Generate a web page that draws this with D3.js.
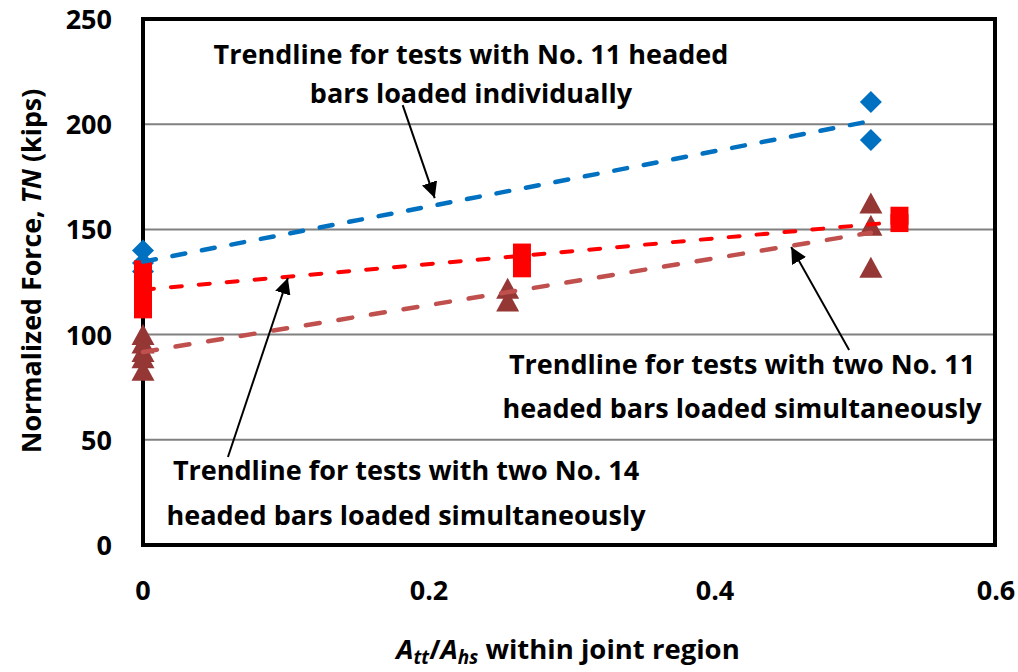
<!DOCTYPE html>
<html>
<head>
<meta charset="utf-8">
<script src="https://cdn.jsdelivr.net/npm/d3@7"></script>
<style>
  html, body { margin: 0; padding: 0; background: #fff; }
  svg { display: block; }
  text { font-family: "Open Sans", Lato, sans-serif; font-weight: bold; fill: #000; }
</style>
</head>
<body>
<svg id="chart" width="1018" height="672"></svg>
<script>
// ---- data ----
const xTicks = [0, 0.2, 0.4, 0.6];
const yTicks = [0, 50, 100, 150, 200, 250];

// Tests with No. 11 headed bars loaded individually (blue diamonds)
const indivX = [0, 0, 0, 0.509, 0.509];
const indivY = [140, 134, 130, 210.5, 192.5];

// Tests with two No. 11 headed bars loaded simultaneously (red squares)
const two11X = [0, 0, 0, 0, 0, 0.265, 0.265, 0.529, 0.529];
const two11Y = [131, 127, 122, 117, 112, 139, 131.5, 156.5, 153];

// Tests with two No. 14 headed bars loaded simultaneously (brown triangles)
const two14X = [0, 0, 0, 0, 0, 0.255, 0.255, 0.509, 0.509, 0.509];
const two14Y = [100, 96, 92, 89, 83, 122, 116, 162.5, 152, 132];

const annotations = [
  { lines: ["Trendline for tests with No. 11 headed", "bars loaded individually"], cx: 471, y0: 64, gap: 39 },
  { lines: ["Trendline for tests with two No. 11", "headed bars loaded simultaneously"], cx: 742, y0: 374, gap: 44 },
  { lines: ["Trendline for tests with two No. 14", "headed bars loaded simultaneously"], cx: 406, y0: 480, gap: 45 }
];
// arrows in data units: [tailX, tailY, tipX, tipY]
const arrows = [
  [0.1816, 209.1, 0.2040, 164.9],
  [0.0594, 41.8, 0.1013, 126.9],
  [0.4938, 92.7, 0.4533, 141.6]
];

// ---- layout ----
const svg = d3.select("#chart");
const plotLeft = 143, plotTop = 19, plotBottom = 545, frameRight = 995;
const x = d3.scaleLinear().domain([0, 0.6]).range([plotLeft, 1001]);
const y = d3.scaleLinear().domain([0, 250]).range([plotBottom, plotTop]);

const blue = "#0070C0", red = "#FF0000", brown = "#953735", brownLine = "#C0504D";

// gridlines
svg.append("g").selectAll("line").data(yTicks.filter(d => d > 0 && d < 250)).join("line")
  .attr("x1", plotLeft).attr("x2", frameRight)
  .attr("y1", d => y(d)).attr("y2", d => y(d))
  .attr("stroke", "#808080").attr("stroke-width", 2);

// frame
svg.append("rect").attr("x", plotLeft).attr("y", plotTop)
  .attr("width", frameRight - plotLeft).attr("height", plotBottom - plotTop)
  .attr("fill", "none").attr("stroke", "#000").attr("stroke-width", 4);

// y tick labels
svg.append("g").selectAll("text").data(yTicks).join("text")
  .attr("x", 112).attr("y", d => y(d) + 10)
  .attr("text-anchor", "end").attr("font-size", 27)
  .text(d => d);

// x tick labels
svg.append("g").selectAll("text").data(xTicks).join("text")
  .attr("x", d => Math.min(x(d), 996)).attr("y", 600)
  .attr("text-anchor", "middle").attr("font-size", 27)
  .text(d => d);

// markers
const diamond = (cx, cy, r) => `M${cx},${cy - r}L${cx + r},${cy}L${cx},${cy + r}L${cx - r},${cy}Z`;
const square = (cx, cy, s) => `M${cx - s / 2},${cy - s / 2}h${s}v${s}h${-s}Z`;
const tri = (cx, cy, w, h) => `M${cx},${cy - h / 2}L${cx + w / 2},${cy + h / 2}L${cx - w / 2},${cy + h / 2}Z`;

svg.append("g").selectAll("path").data(d3.range(indivX.length)).join("path")
  .attr("d", i => diamond(x(indivX[i]), y(indivY[i]), 11)).attr("fill", blue);
svg.append("g").selectAll("path").data(d3.range(two11X.length)).join("path")
  .attr("d", i => square(x(two11X[i]), y(two11Y[i]), 18)).attr("fill", red);
svg.append("g").selectAll("path").data(d3.range(two14X.length)).join("path")
  .attr("d", i => tri(x(two14X[i]), y(two14Y[i]), 23, 21)).attr("fill", brown);

// linear trendlines (least squares)
function fit(xs, ys) {
  const mx = d3.mean(xs), my = d3.mean(ys);
  let sxy = 0, sxx = 0;
  xs.forEach((v, i) => { sxy += (v - mx) * (ys[i] - my); sxx += (v - mx) * (v - mx); });
  const b = sxy / sxx, a = my - b * mx;
  const x0 = d3.min(xs), x1 = d3.max(xs);
  return [[x0, a + b * x0], [x1, a + b * x1]];
}
const line = d3.line().x(d => x(d[0])).y(d => y(d[1]));
svg.append("path").attr("d", line(fit(indivX, indivY)))
  .attr("stroke", blue).attr("stroke-width", 4.5).attr("fill", "none")
  .attr("stroke-dasharray", "13,17").attr("stroke-linecap", "round");
svg.append("path").attr("d", line(fit(two11X, two11Y)))
  .attr("stroke", red).attr("stroke-width", 4).attr("fill", "none")
  .attr("stroke-dasharray", "11,17").attr("stroke-linecap", "round");
svg.append("path").attr("d", line(fit(two14X, two14Y)))
  .attr("stroke", brownLine).attr("stroke-width", 4.5).attr("fill", "none")
  .attr("stroke-dasharray", "14,19").attr("stroke-linecap", "round");

// arrows
svg.append("defs").append("marker").attr("id", "ah")
  .attr("viewBox", "0 0 10 10").attr("refX", 10).attr("refY", 5)
  .attr("markerWidth", 8).attr("markerHeight", 8).attr("markerUnits", "strokeWidth")
  .attr("orient", "auto")
  .append("path").attr("d", "M0,0L10,5L0,10Z").attr("fill", "#000");
svg.append("g").selectAll("line").data(arrows).join("line")
  .attr("x1", d => x(d[0])).attr("y1", d => y(d[1]))
  .attr("x2", d => x(d[2])).attr("y2", d => y(d[3]))
  .attr("stroke", "#000").attr("stroke-width", 2)
  .attr("marker-end", "url(#ah)");

// annotation text
annotations.forEach(a => {
  a.lines.forEach((t, i) => {
    svg.append("text").attr("x", a.cx).attr("y", a.y0 + i * a.gap)
      .attr("text-anchor", "middle").attr("font-size", 27).text(t);
  });
});

// y axis title
const yt = svg.append("text").attr("transform", "translate(41,271) rotate(-90)")
  .attr("text-anchor", "middle").attr("font-size", 26.8);
yt.append("tspan").text("Normalized Force, ");
yt.append("tspan").attr("font-style", "italic").text("TN");
yt.append("tspan").text(" (kips)");

// x axis title
const xt = svg.append("text").attr("x", 568).attr("y", 659)
  .attr("text-anchor", "middle").attr("font-size", 27.5);
xt.append("tspan").attr("font-style", "italic").text("A");
xt.append("tspan").attr("font-style", "italic").attr("font-size", 19).attr("dy", 5).text("tt");
xt.append("tspan").attr("dy", -5).text("/");
xt.append("tspan").attr("font-style", "italic").text("A");
xt.append("tspan").attr("font-style", "italic").attr("font-size", 19).attr("dy", 5).text("hs");
xt.append("tspan").attr("dy", -5).text(" within joint region");
</script>
</body>
</html>
